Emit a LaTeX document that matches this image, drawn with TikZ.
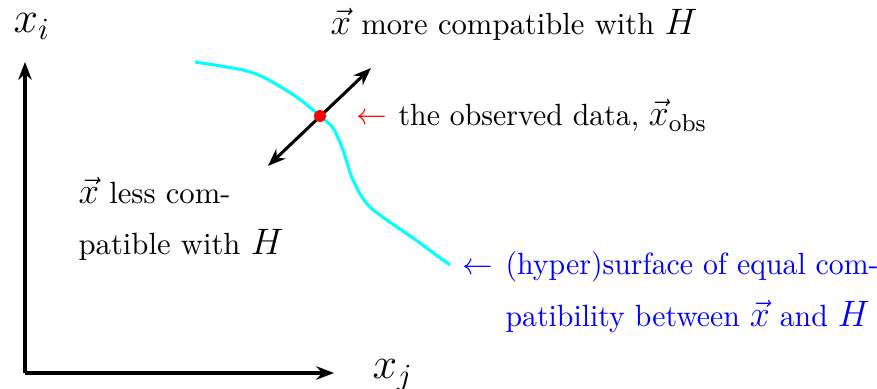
\documentclass[tikz,border=0pt]{standalone}
\usetikzlibrary{arrows.meta}
\definecolor{surfcyan}{RGB}{0,255,255}
\definecolor{lblblue}{RGB}{0,0,255}
\definecolor{lblred}{RGB}{255,0,0}
\newcommand{\mm}[1]{\mbox{\large$#1$}}
\newcommand{\narrow}[1]{\scalebox{0.972}[1]{#1}}
\begin{document}
\begin{tikzpicture}[x=0.326pt,y=-0.326pt,
  axis/.style={line width=1pt,-{Stealth[length=5.8pt,width=4.4pt]}},
  dirarrow/.style={line width=1pt,{Stealth[length=5.8pt,width=4.4pt]}-{Stealth[length=5.8pt,width=4.4pt]}},
  surf/.style={surfcyan,line width=1pt},
  lbl/.style={inner sep=0pt,anchor=base west}]
\useasboundingbox (0,0) rectangle (877,389);
\coordinate (O) at (25,373);
\coordinate (ytip) at (25,62);
\coordinate (xtip) at (334,373);
\draw[axis] (O) -- (ytip);
\draw[axis] (O) -- (xtip);
\node[lbl] (xi) at (13,33) {\Large $x_i$};
\node[lbl] (xj) at (372,379) {\Large $x_j$};
\draw[surf] plot[smooth] coordinates {(195,62) (243,70) (267,79) (298,98) (320,116) (333,128) (343,150) (353,180) (370,207) (413,238) (450,265)};
\coordinate (a1) at (268,166);
\coordinate (a2) at (371,68);
\draw[dirarrow] (a1) -- (a2);
\node[circle,fill=lblred,inner sep=0pt,minimum size=3.9pt] (obs) at (320,116) {};
\node[lbl,lblred] (rarr) at (356,125) {$\leftarrow$};
\node[lbl] (obslbl) at (398,126) {\narrow{the observed data, \mm{\vec{x}_{\mathrm{obs}}}}};
\node[lbl] (more) at (330,35) {\mm{\vec{x}} more compatible with \mm{H}};
\node[lbl] (less1) at (78,204) {\mm{\vec{x}} less com-};
\node[lbl] (less2) at (78,255) {patible with \mm{H}};
\node[lbl,lblblue] (barr) at (462,275) {$\leftarrow$};
\node[lbl,lblblue] (surf1) at (505,275) {\narrow{(hyper)surface of equal com-}};
\node[lbl,lblblue] (surf2) at (505,327) {\narrow{patibility between \mm{\vec{x}} and \mm{H}}};
\end{tikzpicture}
\end{document}
